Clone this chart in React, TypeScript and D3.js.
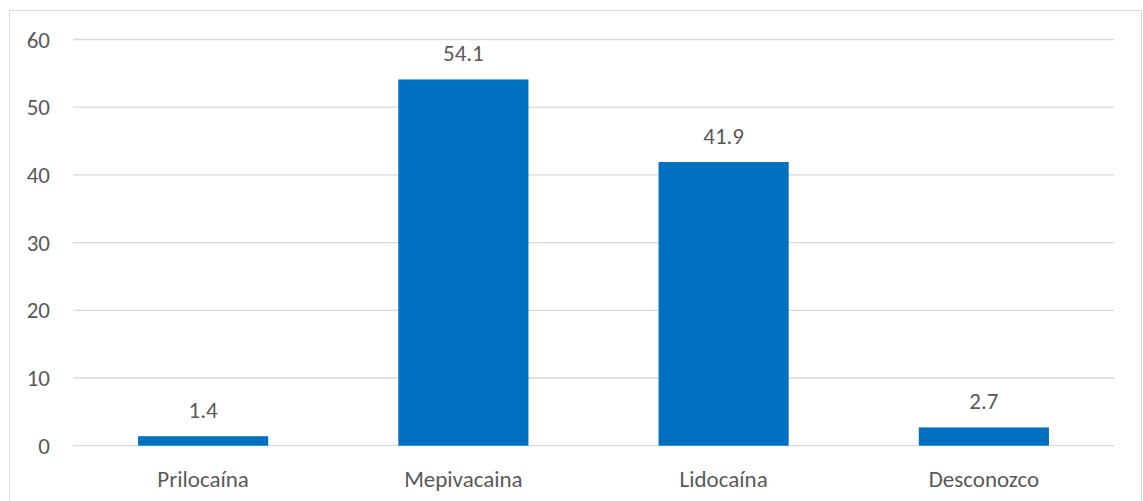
import React from "react";
import * as d3 from "d3";

const categories: string[] = ["Prilocaína", "Mepivacaina", "Lidocaína", "Desconozco"];
const values: number[] = [1.4, 54.1, 41.9, 2.7];
const yTicks: number[] = [0, 10, 20, 30, 40, 50, 60];

const W = 1143;
const H = 501;
const plot = { left: 73, right: 1114, top: 39.5, bottom: 445.7 };
const FONT = "Carlito, Calibri, Lato, 'Open Sans', sans-serif";
const FONT_SIZE = 23;
const TEXT = "#595959";
const BAR = "#0070C0";
const GRID = "#D9D9D9";

export default function App() {
  const x = d3
    .scaleBand<string>()
    .domain(categories)
    .range([plot.left, plot.right])
    .paddingInner(0.5)
    .paddingOuter(0.25);
  const y = d3.scaleLinear().domain([0, 60]).range([plot.bottom, plot.top]);

  return (
    <svg
      width={W}
      height={H}
      style={{ position: "absolute", left: 0, top: 0, background: "#fff" }}
    >
      <rect x={9.5} y={10.5} width={1132} height={H + 10} fill="#fff" stroke={GRID} strokeWidth={1} />
      {yTicks.map((t) => (
        <g key={t}>
          <line
            x1={plot.left}
            x2={plot.right}
            y1={y(t)}
            y2={y(t)}
            stroke={GRID}
            strokeWidth={1.3}
          />
          <text
            x={50}
            y={y(t)}
            dy="0.35em"
            textAnchor="end"
            fontFamily={FONT}
            fontSize={FONT_SIZE}
            fill={TEXT}
          >
            {t}
          </text>
        </g>
      ))}
      {categories.map((c, i) => {
        const bx = x(c)!;
        const bw = x.bandwidth();
        const v = values[i];
        return (
          <g key={c}>
            <rect x={bx} y={y(v)} width={bw} height={y(0) - y(v)} fill={BAR} />
            <text
              x={bx + bw / 2}
              y={y(v) - 18}
              textAnchor="middle"
              fontFamily={FONT}
              fontSize={FONT_SIZE}
              fill={TEXT}
            >
              {v.toFixed(1)}
            </text>
            <text
              x={bx + bw / 2}
              y={487}
              textAnchor="middle"
              fontFamily={FONT}
              fontSize={FONT_SIZE}
              fill={TEXT}
            >
              {c}
            </text>
          </g>
        );
      })}
    </svg>
  );
}
